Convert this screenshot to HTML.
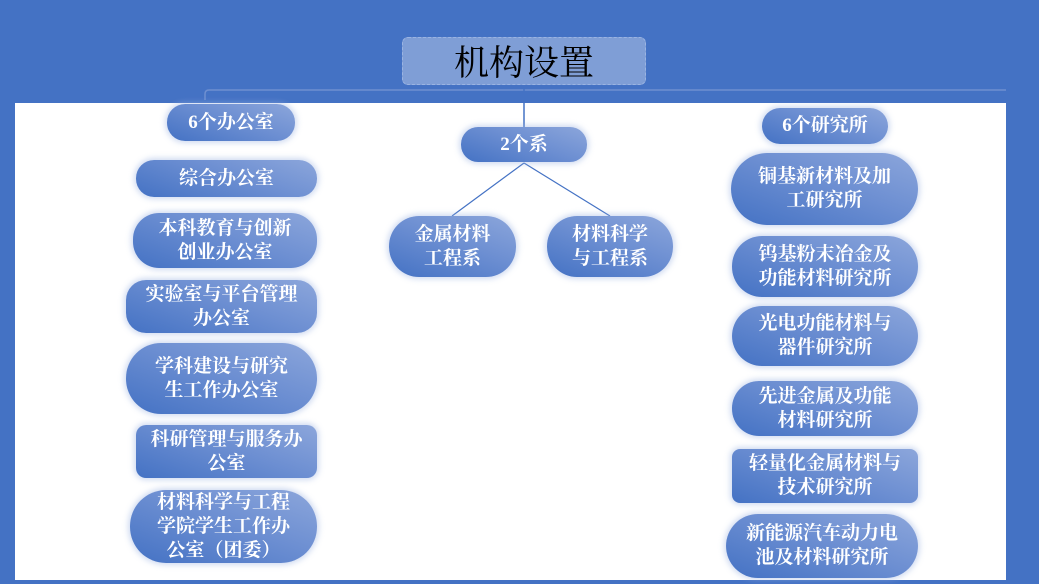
<!DOCTYPE html>
<html><head><meta charset="utf-8"><style>
*{margin:0;padding:0;box-sizing:border-box}
body{width:1039px;height:584px;background:#4472C4;position:relative;overflow:hidden;font-family:"Liberation Serif","Noto Serif CJK SC",serif}
.white{position:absolute;left:15px;top:103px;width:991px;height:477px;background:#fff}
.n{position:absolute;display:flex;align-items:center;justify-content:center;text-align:center;color:#fff;font-weight:bold;font-size:19px;line-height:24px;background:linear-gradient(20deg,#4472C4 0%,#6D8FD2 55%,#8CA6DB 100%);box-shadow:0 0 6px 2px rgba(150,175,225,0.45)}
.title{position:absolute;left:402px;top:37px;width:244px;height:48px;background:#7F9ED6;border:1px dashed #9BB4E2;border-radius:6px;color:#000;font-size:35px;text-align:center;line-height:52px}
</style></head><body>
<div class="white"></div>
<svg width="1039" height="584" style="position:absolute;left:0;top:0">
<path d="M205 100 V94 Q205 90 209 90 H1006" stroke="#6E8FD0" stroke-width="1.5" fill="none"/>
<line x1="524" y1="74" x2="524" y2="127" stroke="#4472C4" stroke-width="1.5"/>
<line x1="524" y1="163" x2="452" y2="216" stroke="#4472C4" stroke-width="1.2"/>
<line x1="524" y1="163" x2="610" y2="216" stroke="#4472C4" stroke-width="1.2"/>
</svg>
<div class="title">机构设置</div>

<div class="n" style="left:167px;top:104px;width:128px;height:37px;border-radius:18px">6个办公室</div>
<div class="n" style="left:136px;top:160px;width:181px;height:37px;border-radius:18px">综合办公室</div>
<div class="n" style="left:133px;top:213px;width:184px;height:55px;border-radius:26px">本科教育与创新<br>创业办公室</div>
<div class="n" style="left:126px;top:280px;width:191px;height:53px;border-radius:20px">实验室与平台管理<br>办公室</div>
<div class="n" style="left:126px;top:343px;width:191px;height:71px;border-radius:35px">学科建设与研究<br>生工作办公室</div>
<div class="n" style="left:136px;top:425px;width:181px;height:53px;border-radius:10px">科研管理与服务办<br>公室</div>
<div class="n" style="left:130px;top:490px;width:187px;height:73px;border-radius:36px">材料科学与工程<br>学院学生工作办<br>公室（团委）</div>

<div class="n" style="left:461px;top:127px;width:126px;height:35px;border-radius:17px">2个系</div>
<div class="n" style="left:389px;top:216px;width:127px;height:61px;border-radius:30px">金属材料<br>工程系</div>
<div class="n" style="left:547px;top:216px;width:126px;height:61px;border-radius:30px">材料科学<br>与工程系</div>

<div class="n" style="left:762px;top:108px;width:126px;height:36px;border-radius:18px">6个研究所</div>
<div class="n" style="left:731px;top:153px;width:187px;height:72px;border-radius:36px">铜基新材料及加<br>工研究所</div>
<div class="n" style="left:732px;top:236px;width:186px;height:61px;border-radius:30px">钨基粉末冶金及<br>功能材料研究所</div>
<div class="n" style="left:732px;top:306px;width:186px;height:60px;border-radius:30px">光电功能材料与<br>器件研究所</div>
<div class="n" style="left:732px;top:381px;width:186px;height:55px;border-radius:27px">先进金属及功能<br>材料研究所</div>
<div class="n" style="left:732px;top:449px;width:186px;height:54px;border-radius:8px">轻量化金属材料与<br>技术研究所</div>
<div class="n" style="left:726px;top:514px;width:192px;height:64px;border-radius:32px">新能源汽车动力电<br>池及材料研究所</div>
</body></html>
